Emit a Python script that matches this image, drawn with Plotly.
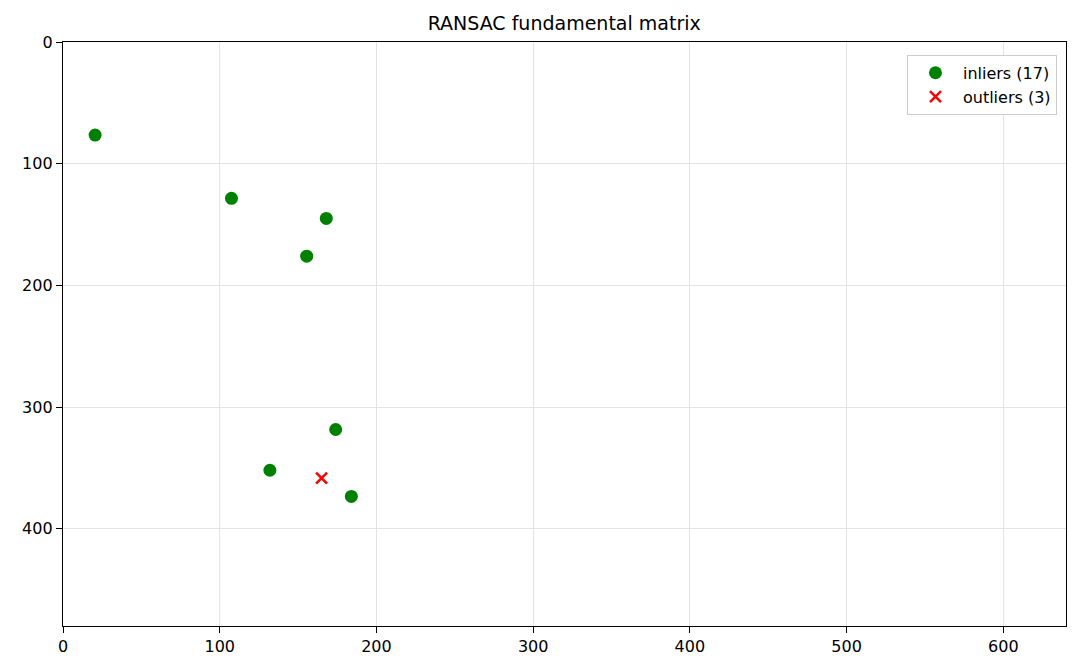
import plotly.graph_objects as go

# inlier / outlier pixel coordinates
inlier_x = [20.5, 107.5, 168, 155.5, 174, 132, 184]
inlier_y = [76.5, 128.5, 145, 176, 318.5, 352, 373.5]
outlier_x = [165]
outlier_y = [358.5]
n_inliers = 17
n_outliers = 3

img_w, img_h = 640, 480

fig = go.Figure()
fig.add_trace(go.Scatter(
    x=inlier_x, y=inlier_y, mode="markers",
    name=f"inliers ({n_inliers})",
    marker=dict(color="green", size=13, symbol="circle", line=dict(width=0)),
))
fig.add_trace(go.Scatter(
    x=outlier_x, y=outlier_y, mode="markers",
    name=f"outliers ({n_outliers})",
    marker=dict(color="red", size=11, symbol="x-thin", line=dict(width=2.5, color="red")),
))

axis_style = dict(
    showline=True, linecolor="black", linewidth=1.3, mirror=True,
    ticks="outside", ticklen=6, tickwidth=1.3, tickcolor="black",
    showgrid=True, gridcolor="#e3e3e3", gridwidth=1,
    zeroline=False, tickfont=dict(size=16, color="black"),
)

# page body has an 8px margin, so the margins here are shifted to compensate
fig.update_layout(
    width=1080, height=672,
    margin=dict(l=55, r=22, t=34, b=54),
    plot_bgcolor="white", paper_bgcolor="white",
    font=dict(family="DejaVu Sans", color="black"),
    title=dict(text="RANSAC fundamental matrix", x=0.515, xanchor="center",
               y=0.977, yanchor="middle", font=dict(size=19)),
    xaxis=dict(range=[0, img_w], dtick=100, **axis_style),
    yaxis=dict(range=[img_h, 0], dtick=100, **axis_style),
    legend=dict(x=0.991, y=0.978, xanchor="right", yanchor="top",
                bgcolor="white", bordercolor="#cccccc", borderwidth=1,
                itemwidth=45, font=dict(size=16)),
    showlegend=True,
)

fig.write_html("out.html")
